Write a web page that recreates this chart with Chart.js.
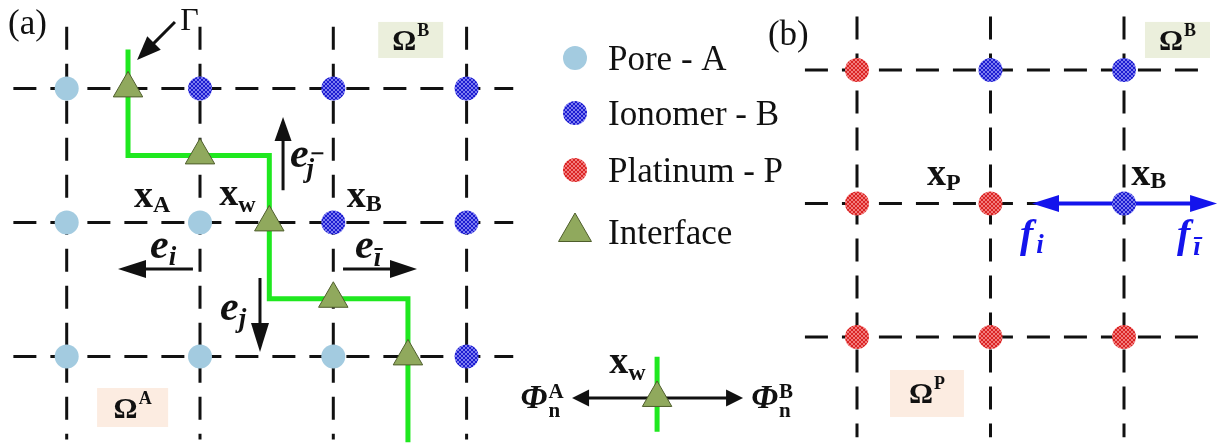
<!DOCTYPE html>
<html>
<head>
<meta charset="utf-8">
<script src="https://cdn.jsdelivr.net/npm/chart.js@4.4.1/dist/chart.umd.min.js"></script>
<style>
  html, body { margin: 0; padding: 0; background: #ffffff; }
  #wrap { position: relative; width: 1226px; height: 448px; overflow: hidden; background: #ffffff; }
  #ca { position: absolute; left: 0; top: 0; width: 800px; height: 448px; }
  #cb { position: absolute; left: 760px; top: 0; width: 466px; height: 448px; }
</style>
</head>
<body>
<div id="wrap">
  <canvas id="ca" width="800" height="448"></canvas>
  <canvas id="cb" width="466" height="448"></canvas>
</div>
<script>
const SERIF = '"Liberation Serif", "Times New Roman", serif';

// ---------- panel (a): pore / ionomer lattice cut by the interface Γ ----------
// phase of every lattice site, rows top to bottom, columns left to right
const aPhases = [
  ['A', 'B', 'B', 'B'],
  ['A', 'A', 'B', 'B'],
  ['A', 'A', 'A', 'B']
];
const aGridSpanX = [-0.40, 3.35];
const aGridSpanY = [-0.46, 2.62];
// interface Γ as a staircase polyline (lattice units)
const aInterfaceX = [0.46, 0.46, 1.52, 1.52, 2.56, 2.56];
const aInterfaceY = [-0.29, 0.50, 0.50, 1.57, 1.57, 2.64];
// interface points x_w where Γ cuts a lattice link
const aWallX = [0.46, 1.00, 1.52, 2.00, 2.56];
const aWallY = [0.00, 0.50, 1.00, 1.57, 2.00];
// direction arrows: [tailX, tailY, tipX, tipY]
const aArrowGamma = [0.812, -0.496, 0.528, -0.212];
const aArrowEjBar = [1.623, 0.760, 1.623, 0.214];
const aArrowEi    = [0.947, 1.347, 0.385, 1.347];
const aArrowEiBar = [2.073, 1.347, 2.628, 1.347];
const aArrowEj    = [1.450, 1.415, 1.450, 1.967];
// inset: the two normal fluxes at one interface point
const insetFluxX = [3.791, 5.074];
const insetFluxY = 2.31;
const insetWallX = 4.429;
const insetWallY = [2.003, 2.563];

// ---------- panel (b): platinum / ionomer lattice ----------
const bPhases = [
  ['P', 'B', 'B'],
  ['P', 'P', 'B'],
  ['P', 'P', 'P']
];
const bGridSpanX = [-0.39, 2.64];
const bGridSpanY = [-0.40, 2.75];
const bForceX = [1.311, 2.697];
const bForceY = 1;

const legendLabels = ['Pore - A', 'Ionomer - B', 'Platinum - P', 'Interface'];

// ---------- styles ----------
function hatch(ctx, base, mesh) {
  const c = document.createElement('canvas');
  c.width = c.height = 4;
  const g = c.getContext('2d');
  g.fillStyle = base; g.fillRect(0, 0, 4, 4);
  g.fillStyle = mesh;
  for (let i = 0; i < 4; i++) { g.fillRect(i, i, 1, 1); g.fillRect(3 - i, i, 1, 1); }
  return ctx.createPattern(c, 'repeat');
}
function phaseFills(ctx) {
  return {
    A: '#a3cbe0',
    B: hatch(ctx, '#1c1cd0', '#7c7cf0'),
    P: hatch(ctx, '#da2424', '#f27c7c')
  };
}
const TRI_FILL = '#90a95d', TRI_EDGE = '#4e5d2b';
const GREEN = '#1fe81f';

// ---------- dataset builders ----------
function lineDs(points, extra) {
  return Object.assign({
    data: points, showLine: true, fill: false, tension: 0,
    pointRadius: 0, pointHoverRadius: 0, borderCapStyle: 'butt', clip: false
  }, extra);
}
function gridDatasets(phases, spanX, spanY) {
  const style = { borderColor: '#111111', borderWidth: 3, borderDash: [23, 14], order: 10 };
  const out = [];
  phases.forEach((row, r) => out.push(lineDs([{ x: spanX[0], y: r }, { x: spanX[1], y: r }], style)));
  phases[0].forEach((_, c) => out.push(lineDs([{ x: c, y: spanY[0] }, { x: c, y: spanY[1] }], style)));
  return out;
}
function nodeDatasets(phases, fills) {
  return ['A', 'B', 'P'].map(key => {
    const pts = [];
    phases.forEach((row, r) => row.forEach((p, c) => { if (p === key) pts.push({ x: c, y: r }); }));
    return {
      data: pts, showLine: false, pointStyle: 'circle', pointRadius: 12, pointHoverRadius: 12,
      pointBackgroundColor: fills[key], pointBorderWidth: 0, borderWidth: 0, order: 4, clip: false
    };
  }).filter(d => d.data.length);
}
function triangleDs(xs, ys) {
  return {
    data: xs.map((x, i) => ({ x, y: ys[i] })), showLine: false,
    pointStyle: 'triangle', pointRadius: 17, pointHoverRadius: 17,
    pointBackgroundColor: TRI_FILL, pointBorderColor: TRI_EDGE, pointBorderWidth: 1,
    order: 2, clip: false
  };
}
function arrowDs(seg, color, width, len, wid, both) {
  return lineDs([{ x: seg[0], y: seg[1] }, { x: seg[2], y: seg[3] }],
    { borderColor: color, borderWidth: width, order: 6, arrow: { len, wid, both: !!both } });
}

// draws arrow shafts with filled heads from the dataset's own scaled points
const arrowPlugin = {
  id: 'arrowHeads',
  beforeDatasetDraw(chart, args) {
    const ds = chart.data.datasets[args.index];
    if (!ds.arrow) return;
    const pts = args.meta.data;
    const a = pts[0], b = pts[pts.length - 1];
    const { len, wid, both } = ds.arrow;
    const dx = b.x - a.x, dy = b.y - a.y, L = Math.hypot(dx, dy);
    const ux = dx / L, uy = dy / L;
    const ctx = chart.ctx;
    ctx.save();
    ctx.strokeStyle = ds.borderColor; ctx.fillStyle = ds.borderColor;
    ctx.lineWidth = ds.borderWidth; ctx.lineCap = 'butt';
    const sx = both ? a.x + ux * len * 0.7 : a.x, sy = both ? a.y + uy * len * 0.7 : a.y;
    ctx.beginPath();
    ctx.moveTo(sx, sy);
    ctx.lineTo(b.x - ux * len * 0.7, b.y - uy * len * 0.7);
    ctx.stroke();
    const head = (tx, ty, vx, vy) => {
      const bx = tx - vx * len, by = ty - vy * len;
      ctx.beginPath();
      ctx.moveTo(tx, ty);
      ctx.lineTo(bx - vy * wid / 2, by + vx * wid / 2);
      ctx.lineTo(bx + vy * wid / 2, by - vx * wid / 2);
      ctx.closePath();
      ctx.fill();
    };
    head(b.x, b.y, ux, uy);
    if (both) head(a.x, a.y, -ux, -uy);
    ctx.restore();
    return false;
  }
};

// rich text: runs of glyphs with sub/superscripts and overbars
function runs(ctx, x, y, parts, color) {
  let cx = x, held = 0;
  ctx.textAlign = 'left'; ctx.textBaseline = 'alphabetic';
  for (const p of parts) {
    ctx.font = p.f + ' ' + SERIF;
    const size = parseFloat(p.f.match(/(\d+(\.\d+)?)px/)[1]);
    const w = ctx.measureText(p.t).width;
    const px = cx + (p.dx || 0), py = y + (p.dy || 0);
    if (color) {
      ctx.fillStyle = p.c || color;
      ctx.fillText(p.t, px, py);
      if (p.bar) {
        ctx.strokeStyle = p.c || color; ctx.lineWidth = 2;
        ctx.beginPath();
        ctx.moveTo(px + 0.18 * size, py - 0.88 * size);
        ctx.lineTo(px + 0.62 * size, py - 0.88 * size);
        ctx.stroke();
      }
    }
    if (p.keep) { held = Math.max(held, w); }
    else { cx = px + Math.max(w, held); held = 0; }
  }
  return cx - x;
}
function makeTextPlugin(boxes, labels) {
  return {
    id: 'richText',
    beforeDatasetsDraw(chart) {
      const { ctx, scales: { x, y } } = chart;
      boxes.forEach(b => {
        const l = x.getPixelForValue(b.x0), r = x.getPixelForValue(b.x1);
        const t = y.getPixelForValue(b.y0), bt = y.getPixelForValue(b.y1);
        ctx.save();
        ctx.fillStyle = b.fill;
        ctx.fillRect(l, t, r - l, bt - t);
        const w = runs(ctx, 0, 0, b.parts, null);
        runs(ctx, (l + r) / 2 - w / 2, (t + bt) / 2 + 10, b.parts, '#111111');
        ctx.restore();
      });
    },
    afterDatasetsDraw(chart) {
      const { ctx, scales: { x, y } } = chart;
      labels.forEach(lb => {
        ctx.save();
        runs(ctx, x.getPixelForValue(lb.x), y.getPixelForValue(lb.y), lb.parts, lb.color || '#111111');
        ctx.restore();
      });
    }
  };
}
function makeLegendPlugin(fills) {
  const markers = [
    { style: 'circle', r: 12, fill: fills.A },
    { style: 'circle', r: 12, fill: fills.B },
    { style: 'circle', r: 12, fill: fills.P },
    { style: 'triangle', r: 19, fill: TRI_FILL, edge: TRI_EDGE, bw: 1 }
  ];
  const mx = 575, tx = 608, rows = [58, 113, 170, 232];
  return {
    id: 'phaseLegend',
    afterDatasetsDraw(chart) {
      const ctx = chart.ctx;
      legendLabels.forEach((label, i) => {
        const m = markers[i];
        ctx.save();
        ctx.fillStyle = m.fill;
        ctx.strokeStyle = m.edge || m.fill;
        ctx.lineWidth = m.bw || 0;
        Chart.helpers.drawPoint(ctx, { pointStyle: m.style, radius: m.r, rotation: 0, borderWidth: m.bw || 0 }, mx, rows[i]);
        ctx.fillStyle = '#111111';
        ctx.font = '35px ' + SERIF;
        ctx.textAlign = 'left'; ctx.textBaseline = 'alphabetic';
        ctx.fillText(label, tx, rows[i] + 12);
        ctx.restore();
      });
    }
  };
}

function buildChart(canvas, frame, datasets, plugins) {
  return new Chart(canvas, {
    type: 'scatter',
    data: { datasets },
    options: {
      responsive: false, maintainAspectRatio: false, animation: false, devicePixelRatio: 1, events: [],
      layout: { padding: 0, autoPadding: false },
      plugins: { legend: { display: false }, tooltip: { enabled: false } },
      scales: {
        x: { type: 'linear', display: false, bounds: 'data',
             min: -frame.ox / frame.ux, max: (frame.w - frame.ox) / frame.ux },
        y: { type: 'linear', display: false, bounds: 'data', reverse: true,
             min: -frame.oy / frame.uy, max: (frame.h - frame.oy) / frame.uy }
      }
    },
    plugins: [arrowPlugin].concat(plugins)
  });
}

// text fragments
const X  = 'bold 38px', SUB = 'bold 24px';
const E  = 'bold italic 42px', ESUB = 'bold italic 27px';
const OM = 'bold 30px', OMSUP = 'bold 18px';
const PHI = 'bold italic 34px', PHISUB = 'bold 21px';
const BLUE = '#1414ec';

// ---------- panel (a) ----------
const canvasA = document.getElementById('ca');
const fillsA = phaseFills(canvasA.getContext('2d'));
const dsA = [].concat(
  gridDatasets(aPhases, aGridSpanX, aGridSpanY),
  [lineDs(aInterfaceX.map((x, i) => ({ x, y: aInterfaceY[i] })), { borderColor: GREEN, borderWidth: 5, borderJoinStyle: 'miter', order: 8 })],
  [lineDs([{ x: insetWallX, y: insetWallY[0] }, { x: insetWallX, y: insetWallY[1] }], { borderColor: GREEN, borderWidth: 5, order: 8 })],
  nodeDatasets(aPhases, fillsA),
  [triangleDs(aWallX, aWallY), triangleDs([insetWallX], [insetFluxY])],
  [
    arrowDs(aArrowGamma, '#111111', 3, 24, 19),
    arrowDs(aArrowEjBar, '#111111', 3, 24, 17),
    arrowDs(aArrowEi, '#111111', 3, 28, 18),
    arrowDs(aArrowEiBar, '#111111', 3, 27, 18),
    arrowDs(aArrowEj, '#111111', 3, 29, 18),
    arrowDs([insetFluxX[0], insetFluxY, insetFluxX[1], insetFluxY], '#111111', 3, 17, 17, true)
  ]
);
const boxesA = [
  { x0: 2.337, x1: 2.824, y0: -0.496, y1: -0.227, fill: '#ebefdc', parts: [{ t: 'Ω', f: OM }, { t: 'B', f: OMSUP, dy: -14, dx: 1 }] },
  { x0: 0.228, x1: 0.761, y0: 2.236, y1: 2.527, fill: '#fcece1', parts: [{ t: 'Ω', f: OM }, { t: 'A', f: OMSUP, dy: -14, dx: 1 }] }
];
const labelsA = [
  { x: -0.44, y: -0.406, parts: [{ t: '(a)', f: '35px' }] },
  { x: 0.851, y: -0.436, parts: [{ t: 'Γ', f: '32px' }] },
  { x: 0.505, y: 0.884, parts: [{ t: 'x', f: X }, { t: 'A', f: SUB, dy: 5 }] },
  { x: 1.145, y: 0.870, parts: [{ t: 'x', f: X }, { t: 'w', f: SUB, dy: 7 }] },
  { x: 2.100, y: 0.884, parts: [{ t: 'x', f: X }, { t: 'B', f: SUB, dy: 4 }] },
  { x: 1.675, y: 0.587, parts: [{ t: 'e', f: E }, { t: 'j', f: ESUB, dy: 10, dx: -2, bar: true }] },
  { x: 0.625, y: 1.266, parts: [{ t: 'e', f: E }, { t: 'i', f: ESUB, dy: 7 }] },
  { x: 2.163, y: 1.266, parts: [{ t: 'e', f: E }, { t: 'ī', f: ESUB, dy: 8 }] },
  { x: 1.150, y: 1.728, parts: [{ t: 'e', f: E }, { t: 'j', f: ESUB, dy: 7 }] },
  { x: 4.070, y: 2.124, parts: [{ t: 'x', f: X }, { t: 'w', f: SUB, dy: 7 }] },
  { x: 3.405, y: 2.385, parts: [{ t: 'Φ', f: PHI }, { t: 'A', f: PHISUB, dy: -10, dx: 1, keep: true }, { t: 'n', f: PHISUB, dy: 9, dx: 1 }] },
  { x: 5.135, y: 2.385, parts: [{ t: 'Φ', f: PHI }, { t: 'B', f: PHISUB, dy: -10, dx: 1, keep: true }, { t: 'n', f: PHISUB, dy: 9, dx: 1 }] }
];
buildChart(canvasA, { ox: 66.7, oy: 88.4, ux: 133.3, uy: 134, w: 800, h: 448 }, dsA,
  [makeTextPlugin(boxesA, labelsA), makeLegendPlugin(fillsA)]);

// ---------- panel (b) ----------
const canvasB = document.getElementById('cb');
const fillsB = phaseFills(canvasB.getContext('2d'));
const dsB = [].concat(
  gridDatasets(bPhases, bGridSpanX, bGridSpanY),
  nodeDatasets(bPhases, fillsB),
  [arrowDs([bForceX[0], bForceY, bForceX[1], bForceY], BLUE, 4, 27, 17, true)]
);
const boxesB = [
  { x0: 2.157, x1: 2.644, y0: -0.360, y1: -0.090, fill: '#ebefdc', parts: [{ t: 'Ω', f: OM }, { t: 'B', f: OMSUP, dy: -14, dx: 1 }] },
  { x0: 0.247, x1: 0.801, y0: 2.247, y1: 2.599, fill: '#fcece1', parts: [{ t: 'Ω', f: OM }, { t: 'P', f: OMSUP, dy: -14, dx: 1 }] }
];
const labelsB = [
  { x: -0.667, y: -0.187, parts: [{ t: '(b)', f: '35px' }] },
  { x: 0.525, y: 0.861, parts: [{ t: 'x', f: X }, { t: 'P', f: SUB, dy: 5 }] },
  { x: 2.055, y: 0.861, parts: [{ t: 'x', f: X }, { t: 'B', f: SUB, dy: 3 }] },
  { x: 1.221, y: 1.326, color: BLUE, parts: [{ t: 'f', f: 'bold italic 40px' }, { t: 'i', f: ESUB, dy: 6, dx: 3 }] },
  { x: 2.397, y: 1.326, color: BLUE, parts: [{ t: 'f', f: 'bold italic 40px' }, { t: 'ī', f: ESUB, dy: 8, dx: 3 }] }
];
buildChart(canvasB, { ox: 97, oy: 70, ux: 133.5, uy: 133.5, w: 466, h: 448 }, dsB,
  [makeTextPlugin(boxesB, labelsB)]);
</script>
</body>
</html>
